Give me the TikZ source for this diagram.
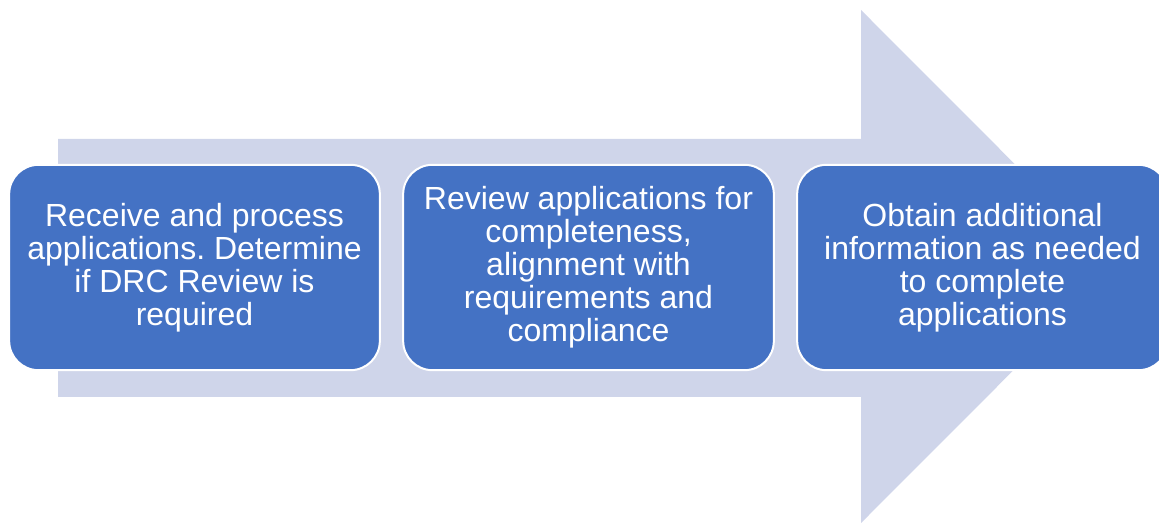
\documentclass[tikz,border=0pt]{standalone}
\usepackage{fontspec}
\setmainfont{Liberation Sans}
\usetikzlibrary{positioning}
\definecolor{arrowfill}{HTML}{CFD5EA}
\definecolor{stepblue}{HTML}{4472C4}
\tikzstyle{stepbox} = [rectangle, rounded corners=22pt, minimum width=278pt, minimum height=154pt, text centered, align=center, draw=white, line width=1.5pt, fill=stepblue, text=white, font=\fontsize{24}{24.75}\selectfont]

\frenchspacing
\begin{document}
\begin{tikzpicture}[x=0.75pt, y=-0.75pt, node distance=16pt]
    \useasboundingbox (0,0) rectangle (1159,523);
    \clip (0,0) rectangle (1159,523);
    % Background arrow
    \fill[arrowfill] (58,139) -- (861,139) -- (861,10) -- (1117,266.5) -- (861,523) -- (861,397) -- (58,397) -- cycle;

    % Nodes
    \node (receive) [stepbox] at (194.5,267.5) {Receive and process\\ applications. Determine\\ if DRC Review is\\ required};
    \node (review) [stepbox, right=of receive] {Review applications for\\ completeness,\\ alignment with\\ requirements and\\ compliance};
    \node (obtain) [stepbox, right=of review] {Obtain additional\\ information as needed\\ to complete\\ applications};
\end{tikzpicture}
\end{document}
